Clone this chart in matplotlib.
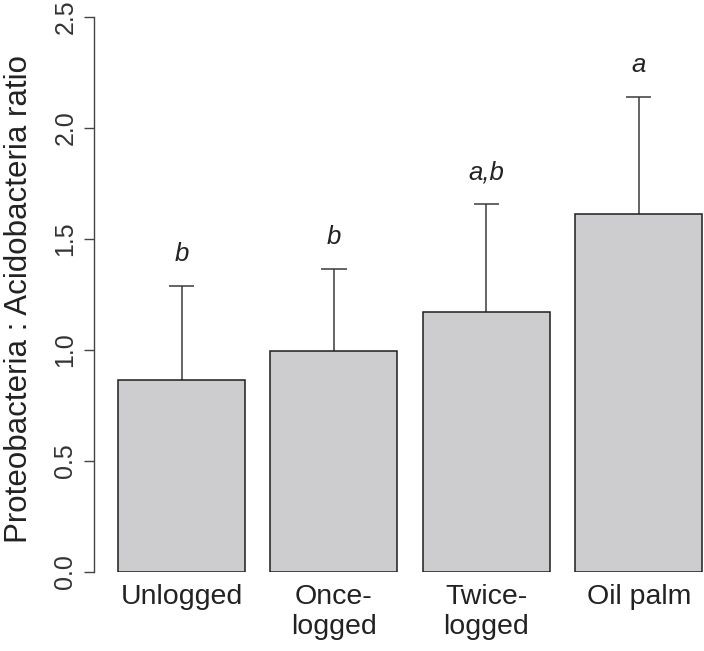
import numpy as np
import matplotlib
matplotlib.use("Agg")
import matplotlib.pyplot as plt

plt.rcParams['font.family'] = ['Liberation Sans', 'DejaVu Sans']

# Data
groups = ["Unlogged", "Once-\nlogged", "Twice-\nlogged", "Oil palm"]
means = [0.865, 0.995, 1.172, 1.613]
upper = [1.288, 1.365, 1.658, 2.140]   # top of the (upper) error bar
letters = ["b", "b", "a,b", "a"]
yticks = [0.0, 0.5, 1.0, 1.5, 2.0, 2.5]

# R barplot layout: width 1, space 0.2
x = 0.7 + 1.2 * np.arange(len(groups))

fig = plt.figure(figsize=(7.04, 6.51), dpi=100)
W, H = 704, 651
ax = fig.add_axes([94 / W, (H - 572) / H, (W - 94) / W, (572 - 17) / H])

ax.bar(x, means, width=1.0, color="#cdcdd0", edgecolor="#1e1e1e",
       linewidth=1.1, zorder=2)

for xi, m, u in zip(x, means, upper):
    ax.plot([xi, xi], [m, u], color="#3a3a3a", lw=1.1, zorder=1,
            solid_capstyle="butt")
    ax.plot([xi - 0.1, xi + 0.1], [u, u], color="#3a3a3a", lw=1.1,
            solid_capstyle="butt")

for xi, u, lab in zip(x, upper, letters):
    ax.text(xi, u + 0.112, lab, ha="center", va="baseline",
            fontsize=18.5, style="italic", color="#222222")

ax.set_xlim((94 - 118) / 127 + 0.2, (704 - 118) / 127 + 0.2)
ax.set_ylim(0, 2.5)

for s in ["top", "right", "bottom"]:
    ax.spines[s].set_visible(False)
ax.spines["left"].set_color("#444444")
ax.spines["left"].set_linewidth(1.0)

ax.set_yticks(yticks)
ax.set_yticklabels(["%.1f" % t for t in yticks], rotation=90, va="center",
                   fontsize=18, color="#333333")
ax.tick_params(axis="y", length=7.5, width=1.0, color="#444444", pad=4.5)

ax.set_xticks(x)
ax.set_xticklabels(groups, fontsize=20.5, color="#222222", linespacing=1.2)
ax.tick_params(axis="x", length=0, pad=9)

fig.text(27 / W, 1 - 299 / H, "Proteobacteria : Acidobacteria ratio",
         rotation=90, rotation_mode="anchor", ha="center", va="baseline",
         fontsize=22.5, color="#222222")

fig.savefig("out.png", dpi=100)
